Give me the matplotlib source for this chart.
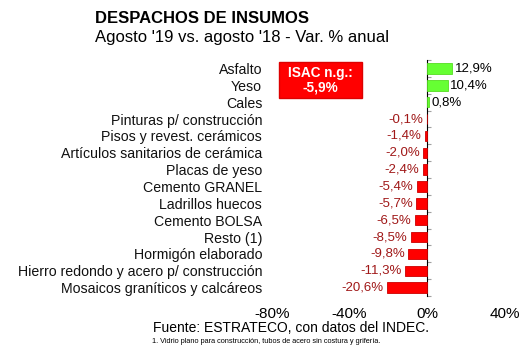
import numpy as np
import matplotlib.pyplot as plt
from matplotlib.patches import Rectangle

plt.rcParams['font.family'] = ['Liberation Sans', 'DejaVu Sans']

# data
categories = ["Asfalto", "Yeso", "Cales", "Pinturas p/ construcción",
              "Pisos y revest. cerámicos", "Artículos sanitarios de cerámica",
              "Placas de yeso", "Cemento GRANEL", "Ladrillos huecos",
              "Cemento BOLSA", "Resto (1)", "Hormigón elaborado",
              "Hierro redondo y acero p/ construcción",
              "Mosaicos graníticos y calcáreos"]
values = [12.9, 10.4, 0.8, -0.1, -1.4, -2.0, -2.4, -5.4, -5.7, -6.5,
          -8.5, -9.8, -11.3, -20.6]
x_ticks = [-80, -40, 0, 40]
isac_value = -5.9

fig = plt.figure(figsize=(5.3, 3.55), dpi=100)
ax = fig.add_axes([0.513, 0.166, 0.44, 0.665])

y = np.arange(len(categories))
colors = ['#66ff33' if v > 0 else '#ff0000' for v in values]
edges = ['#55dd22' if v > 0 else '#cc0000' for v in values]
ax.barh(y, values, height=0.62, color=colors, edgecolor=edges, linewidth=0.6, zorder=3)

for yi, v in zip(y, values):
    lab = ('%.1f%%' % v).replace('.', ',')
    if v > 0:
        ax.text(v + 1.2, yi, lab, va='center', ha='left', fontsize=9.5, color='black')
    else:
        ax.text(v - 1.8, yi, lab, va='center', ha='right', fontsize=9.5, color='#a01818')

ax.set_xlim(-80, 40)
ax.set_ylim(len(categories) - 0.5, -0.5)
ax.set_yticks(y)
ax.set_yticklabels(categories, fontsize=10.2, color='#111111')
ax.tick_params(axis='y', length=0, pad=7)
ax.set_xticks(x_ticks)
ax.set_xticklabels(['%d%%' % t for t in x_ticks], fontsize=11)
ax.tick_params(axis='x', length=0, pad=8)
for s in ax.spines.values():
    s.set_visible(False)

# zero line with small category ticks
zero_frac = (0 - x_ticks[0]) / (x_ticks[-1] - x_ticks[0])
sec = ax.secondary_yaxis(zero_frac)
sec.spines['left'].set_color('#a0a0a0')
sec.set_yticks(np.arange(len(categories) + 1) - 0.5)
sec.set_yticklabels([])
sec.tick_params(axis='y', length=3, color='#a0a0a0', direction='out')

# ISAC box
ax.add_patch(Rectangle((0.030, 0.839), 0.356, 0.153, transform=ax.transAxes,
                       facecolor='#ff0000', edgecolor='#dd0000', zorder=4, clip_on=False))
ax.text(0.208, 0.915, 'ISAC n.g.:\n' + ('%.1f%%' % isac_value).replace('.', ','),
        transform=ax.transAxes, ha='center', va='center', color='white',
        fontsize=9.8, fontweight='bold', linespacing=1.1, zorder=5)

fig.text(0.179, 0.948, 'DESPACHOS DE INSUMOS', fontsize=12, fontweight='bold', va='center')
fig.text(0.179, 0.895, "Agosto '19 vs. agosto '18 - Var. % anual", fontsize=12, va='center')
fig.text(0.549, 0.077, 'Fuente: ESTRATECO, con datos del INDEC.', fontsize=10, ha='center', va='center')
fig.text(0.287, 0.038, '1. Vidrio plano para construcción, tubos de acero sin costura y grifería.',
         fontsize=5.3, ha='left', va='center')

fig.savefig('out.png', dpi=100)
